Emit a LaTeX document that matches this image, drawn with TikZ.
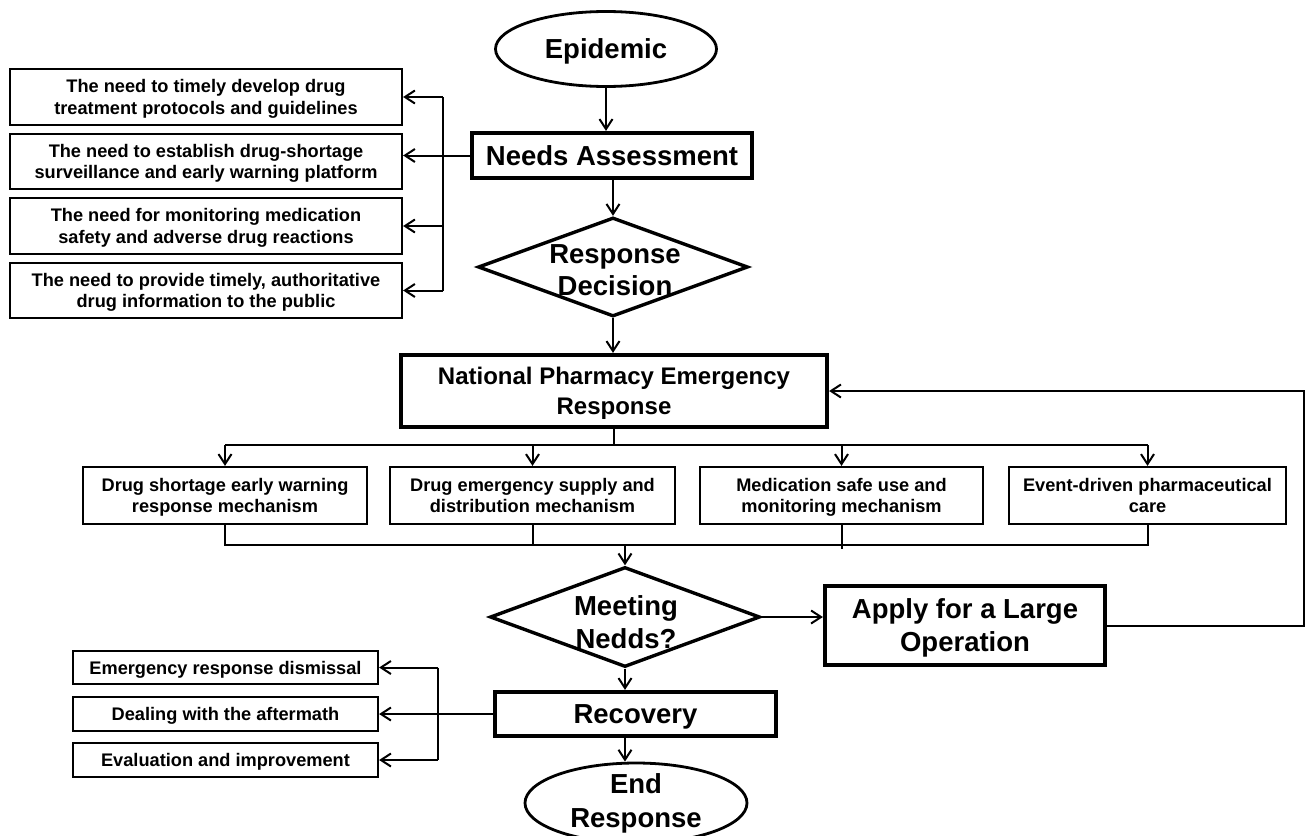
\documentclass[tikz,border=0pt]{standalone}
\usepackage{fontspec}
\setmainfont{Liberation Sans}
\usetikzlibrary{shapes.geometric,arrows.meta,calc}
\begin{document}
\begin{tikzpicture}[x=1pt,y=-1pt,
  conn/.style={line width=2pt,-{Straight Barb[length=10pt,width=13pt,line width=2pt]}},
  plain/.style={line width=2pt},
  smallbox/.style={draw,line width=2.2pt,rectangle,inner sep=0pt,text depth=0pt,align=center,font=\bfseries\fontsize{18.2}{21.5}\selectfont},
  botbox/.style={draw,line width=2.2pt,rectangle,inner sep=0pt,text depth=0pt,align=center,font=\bfseries\fontsize{18.2}{21}\selectfont},
  bigbox/.style={draw,line width=4.2pt,rectangle,inner sep=0pt,text depth=0pt,align=center,font=\bfseries\fontsize{27.5}{33}\selectfont},
  midbox/.style={draw,line width=4.2pt,rectangle,inner sep=0pt,text depth=0pt,align=center,font=\bfseries\fontsize{24}{30}\selectfont},
  term/.style={draw,ellipse,line width=2.8pt,inner sep=0pt},
  decision/.style={draw,diamond,line width=3.4pt,inner sep=0pt},
  bigtext/.style={inner sep=0pt,align=center,font=\bfseries\fontsize{27.5}{33}\selectfont},
]
\useasboundingbox (0,0) rectangle (1306,835);

% main spine
\node[term,minimum width=221,minimum height=75] (epi) at (606,49) {};
\node[bigtext,text depth=0pt] (epit) at (epi) {Epidemic};
\node[bigbox,minimum width=280,minimum height=45] (needs) at (612,155.5) {Needs Assessment};
\node[decision,minimum width=270,minimum height=99] (rd) at (613,267) {};
\node[bigtext,font=\bfseries\fontsize{27.5}{32}\selectfont] (rdt) at (615,270) {Response\\Decision};
\node[midbox,minimum width=426,minimum height=72] (nper) at (614,391) {National Pharmacy Emergency\\Response};

% need boxes
\node[smallbox,minimum width=392,minimum height=56] (n1) at (206,97) {The need to timely develop drug\\treatment protocols and guidelines};
\node[smallbox,minimum width=392,minimum height=55] (n2) at (206,161.5) {The need to establish drug-shortage\\surveillance and early warning platform};
\node[smallbox,minimum width=392,minimum height=56] (n3) at (206,226) {The need for monitoring medication\\safety and adverse drug reactions};
\node[smallbox,minimum width=392,minimum height=55] (n4) at (206,290.5) {The need to provide timely, authoritative\\drug information to the public};

% mechanism boxes
\node[smallbox,minimum width=284,minimum height=57] (mA) at (225,495.5) {Drug shortage early warning\\response mechanism};
\node[smallbox,minimum width=285,minimum height=57] (mB) at (532.5,495.5) {Drug emergency supply and\\distribution mechanism};
\node[smallbox,minimum width=283,minimum height=57] (mC) at (841.5,495.5) {Medication safe use and\\monitoring mechanism};
\node[smallbox,minimum width=277,minimum height=57] (mD) at (1147.5,495.5) {Event-driven pharmaceutical\\care};

% lower part
\node[decision,minimum width=270,minimum height=100] (mn) at (625,617) {};
\node[bigtext] (mnt) at (626,622) {Meeting\\Nedds?};
\node[bigbox,minimum width=280,minimum height=79] (apply) at (965,625.5) {Apply for a Large\\Operation};
\node[bigbox,minimum width=281,minimum height=44] (rec) at (635.5,714) {Recovery};
\node[term,minimum width=222,minimum height=80] (end) at (636,803) {};
\node[bigtext,font=\bfseries\fontsize{27.5}{34}\selectfont] (endt) at (636,803) {End\\Response};

\node[botbox,minimum width=305,minimum height=33] (r1) at (225.5,667.5) {Emergency response dismissal};
\node[botbox,minimum width=305,minimum height=34] (r2) at (225.5,714) {Dealing with the aftermath};
\node[botbox,minimum width=305,minimum height=34] (r3) at (225.5,760) {Evaluation and improvement};

% coordinates
\coordinate (vl) at (443,0);
\coordinate (vl2) at (438,0);
\coordinate (bus) at (614,445);
\coordinate (bus2) at (625,545);
\coordinate (rt) at (1304,0);

% spine connectors
\draw[conn] (epi.south) -- (epi.south |- needs.north);
\draw[conn] (needs.south -| rd.north) -- (rd.north);
\draw[conn] (rd.south) -- (rd.south |- nper.north);

% needs branches
\draw[plain] (vl |- n1.east) -- (vl |- n4.east);
\draw[conn] (needs.west) -- (needs.west -| n2.east);
\foreach \n in {n1,n3,n4} \draw[conn] (vl |- \n.east) -- (\n.east);

% mechanism distribution
\draw[plain] (nper.south) -- (bus);
\draw[plain] (mA.north |- bus) -- (mD.north |- bus);
\foreach \m in {mA,mB,mC,mD} \draw[conn] (\m.north |- bus) -- (\m.north);

% mechanism merge
\draw[plain] (mA.south) -- (mA.south |- bus2) -- (mD.south |- bus2) -- (mD.south);
\draw[plain] (mB.south) -- (mB.south |- bus2);
\draw[plain] (mC.south) -- ($(mC.south |- bus2)+(0,4)$);
\draw[conn] (bus2) -- (mn.north);

% decision outcomes
\draw[conn] (mn.east) -- (mn.east -| apply.west);
\draw[conn] (apply.east) -- (apply.east -| rt) -- (nper.east -| rt) -- (nper.east);
\draw[conn] (mn.south) -- (mn.south |- rec.north);
\draw[conn] (mn.south |- rec.south) -- (mn.south |- end.north);

% recovery branches
\draw[plain] (vl2 |- r1.east) -- (vl2 |- r3.east);
\draw[conn] (rec.west) -- (rec.west -| r2.east);
\foreach \r in {r1,r3} \draw[conn] (vl2 |- \r.east) -- (\r.east);
\end{tikzpicture}
\end{document}
